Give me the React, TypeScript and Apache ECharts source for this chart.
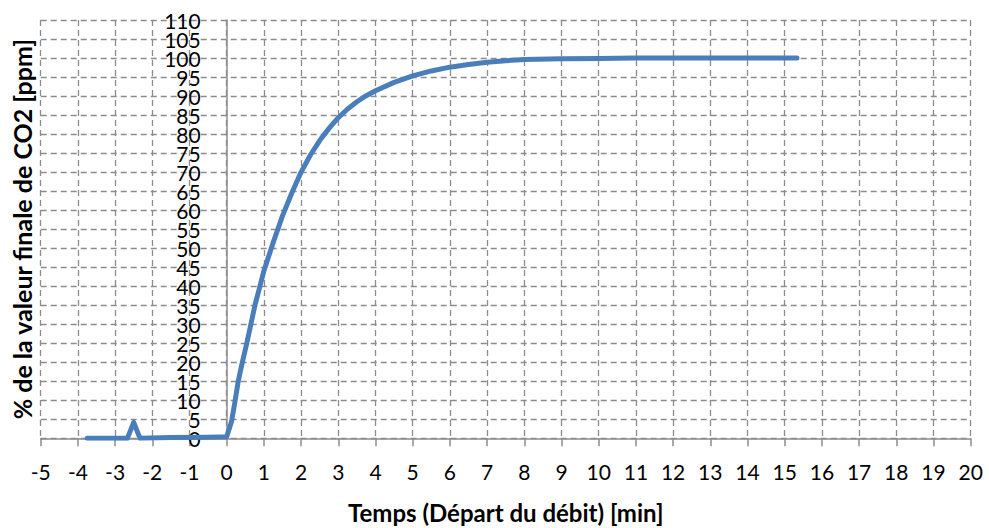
import React, { useEffect, useRef } from "react";
import * as echarts from "echarts";

const timeMin = [
  -3.75, -2.67, -2.5, -2.33, -1.5, -0.5, 0, 0.13, 0.22, 0.31, 0.42, 0.54, 0.65, 0.76, 0.88, 1.0,
  1.25, 1.5, 1.75, 2.0, 2.25, 2.5, 2.75, 3.0, 3.25, 3.5, 3.75, 4.0, 4.5, 5.0, 5.5, 6.0, 6.5, 7.0, 7.5,
  8.0, 9.0, 10.0, 11.0, 12.0, 13.0, 14.0, 15.33,
];
const pctCO2 = [
  0, 0, 4.2, 0, 0.2, 0.3, 0.4, 4.4, 9.5, 15, 20, 25, 30, 35, 39.5, 44,
  51.5, 58.5, 64.5, 70, 74.5, 78.3, 81.5, 84.3, 86.6, 88.5, 90.1, 91.4, 93.6, 95.3, 96.6, 97.6, 98.3, 98.9, 99.3,
  99.6, 99.8, 99.9, 100, 100, 100, 100, 100,
];
const xTicks = { min: -5, max: 20, interval: 1 };
const yTicks = { min: 0, max: 110, interval: 5 };
const xTitle = "Temps (Départ du débit) [min]";
const yTitle = "% de la valeur finale de CO2 [ppm]";

export default function App() {
  const ref = useRef<HTMLDivElement>(null);
  useEffect(() => {
    document.body.style.margin = "0";
    const chart = echarts.init(ref.current!, undefined, { renderer: "svg" });
    const gridLine = { show: true, lineStyle: { color: "#8c8c8c", width: 1.3, type: [6, 4] as any } };
    const axisLineStyle = { color: "#8c8c8c", width: 1.5 };
    const left = 40.7;
    const right = 18.3;
    const plotW = 989 - left - right;
    const zeroOffset = ((0 - xTicks.min) / (xTicks.max - xTicks.min)) * plotW;
    const yLabel = { fontFamily: "Lato", fontSize: 21, color: "#000", margin: 26, hideOverlap: false };
    chart.setOption({
      animation: false,
      backgroundColor: "#fff",
      grid: {
        left,
        right,
        top: 20,
        bottom: 89.7,
        containLabel: false,
        outerBoundsMode: "none",
      },
      xAxis: {
        type: "value",
        ...xTicks,
        axisLine: { show: true, onZero: true, lineStyle: axisLineStyle },
        axisTick: { show: true, length: 8, lineStyle: axisLineStyle },
        splitLine: gridLine,
        axisLabel: {
          fontFamily: "Lato", fontSize: 21, color: "#000",
          margin: 23, showMinLabel: true, showMaxLabel: true, hideOverlap: false,
        },
        name: xTitle,
        nameLocation: "middle",
        nameGap: 62,
        nameTextStyle: { fontFamily: "Lato", fontSize: 24, fontWeight: "bold", color: "#000" },
      },
      yAxis: [
        {
          type: "value",
          ...yTicks,
          offset: -zeroOffset,
          axisLine: { show: true, onZero: false, lineStyle: axisLineStyle },
          axisTick: { show: false },
          splitLine: gridLine,
          axisLabel: { ...yLabel, showMinLabel: false, showMaxLabel: false },
          name: yTitle,
          nameLocation: "middle",
          nameRotate: 90,
          nameGap: 192,
          nameTextStyle: { fontFamily: "Lato", fontSize: 25, fontWeight: "bold", color: "#000" },
        },
        {
          type: "value",
          position: "left",
          min: yTicks.min,
          max: yTicks.max,
          interval: yTicks.max - yTicks.min,
          offset: -zeroOffset,
          axisLine: { show: false, onZero: false },
          axisTick: { show: false },
          splitLine: { show: false },
          axisLabel: { ...yLabel, showMinLabel: true, showMaxLabel: true },
        },
      ],
      series: [
        {
          type: "line",
          yAxisIndex: 0,
          data: timeMin.map((t, i) => [t, pctCO2[i]]),
          showSymbol: false,
          symbol: "none",
          smooth: false,
          lineStyle: { color: "#4a7ebb", width: 5, cap: "round", join: "round" },
        },
      ],
    });
    return () => chart.dispose();
  }, []);
  return <div ref={ref} style={{ width: 989, height: 528 }} />;
}
